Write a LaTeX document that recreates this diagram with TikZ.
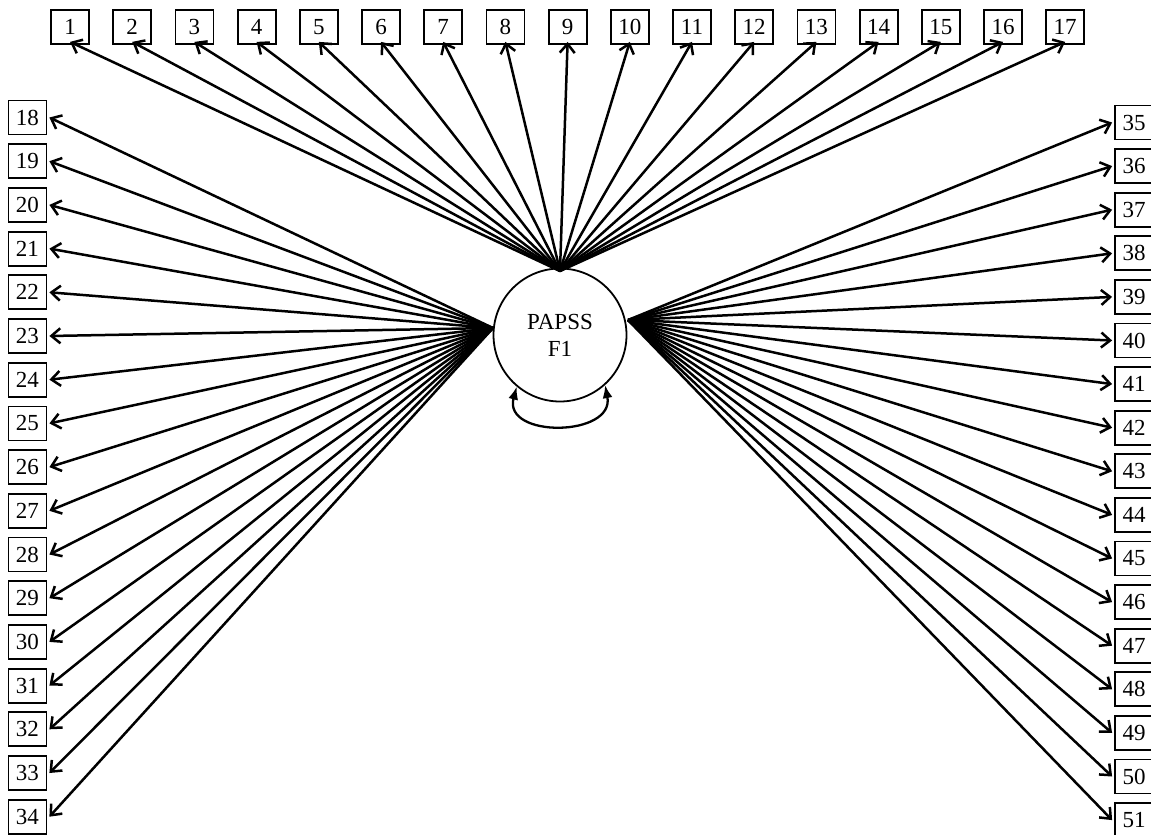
\documentclass[tikz,border=0pt]{standalone}
\usepackage{fontspec}
\setmainfont{Liberation Serif}
\usetikzlibrary{arrows.meta}
\begin{document}
\begin{tikzpicture}[x=1pt,y=-1pt,
  obs/.style={draw,line width=1.8pt,minimum width=38pt,minimum height=34pt,inner sep=0pt,font=\fontsize{23}{25}\selectfont},
  lat/.style={draw,circle,line width=1.8pt,minimum size=133pt,inner sep=0pt,font=\fontsize{23}{27}\selectfont,align=center},
  load/.style={line width=2.5pt,-{Straight Barb[length=9pt,width=15pt]}},
  cov/.style={line width=2.3pt,{Latex[length=13pt,width=10pt]}-{Latex[length=13pt,width=10pt]}}]
\useasboundingbox (0,0) rectangle (1151,835);
\node[lat] (F) at (560,335) {PAPSS\\F1};
\coordinate (T) at (560,271);
\coordinate (L) at (493,328);
\coordinate (R) at (628,320);
\foreach \i in {1,...,17}{
  \node[obs] (n\i) at ({70+62.2*(\i-1)},27) {\i};
  \draw[load] (T) -- ([yshift=3pt]n\i.south);
}
\foreach \i in {18,...,34}{
  \node[obs] (n\i) at (27.5,{117.5+43.7*(\i-18)}) {\i};
  \draw[load] (L) -- ([xshift=2pt]n\i.east);
}
\foreach \i in {35,...,51}{
  \node[obs] (n\i) at (1134,{122.5+43.6*(\i-35)}) {\i};
  \draw[load] (R) -- ([xshift=-2pt]n\i.west);
}
\draw[cov] (F.-130) .. controls +(-14,52) and +(10,52) .. (F.-48);
\end{tikzpicture}
\end{document}
